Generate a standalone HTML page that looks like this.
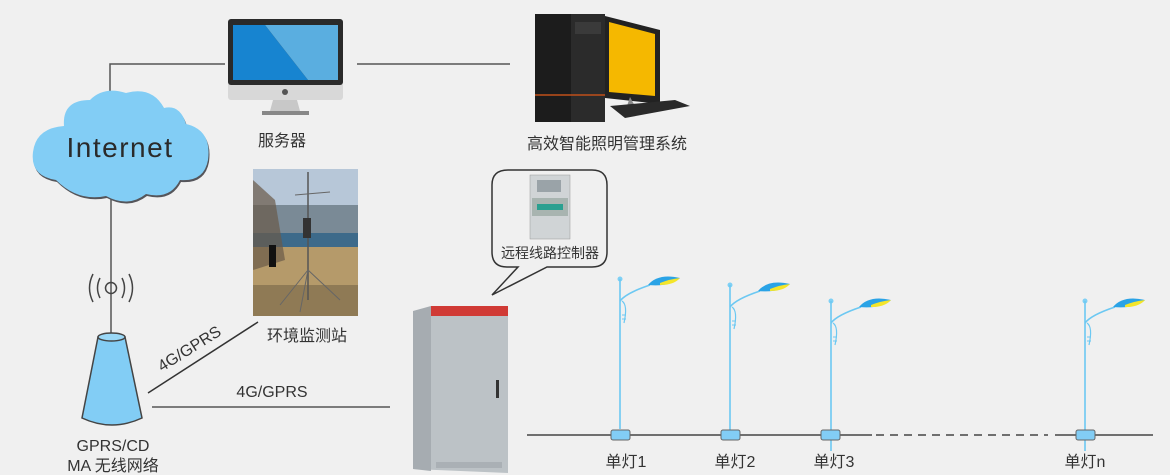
<!DOCTYPE html>
<html><head><meta charset="utf-8"><style>
html,body{margin:0;padding:0;background:#f0f0f0;}
svg{display:block;font-family:"Liberation Sans","Noto Sans CJK SC",sans-serif;}
</style></head><body>
<svg width="1170" height="475" viewBox="0 0 1170 475" xmlns="http://www.w3.org/2000/svg">
<rect width="1170" height="475" fill="#f0f0f0"/>
<defs>
<g id="lamp">
  <circle cx="0" cy="0" r="2.5" fill="#7fd0f5"/>
  <line x1="0" y1="0" x2="0" y2="150" stroke="#6cc8f2" stroke-width="1.6"/>
  <path d="M0 22 Q6 14 30 6" stroke="#6cc8f2" stroke-width="1.6" fill="none"/>
  <path d="M2 22 Q8 26 4 44" stroke="#6cc8f2" stroke-width="1.2" fill="none"/>
  <line x1="2" y1="36" x2="6" y2="36" stroke="#6cc8f2"/><line x1="2" y1="40" x2="6" y2="40" stroke="#6cc8f2"/>
  <path d="M28 6 Q38 -6 60 -1 Q50 8 28 6 Z" fill="#2aa3e6"/>
  <path d="M40 4 Q50 0 60 -1 Q54 6 40 6 Z" fill="#f4e52a"/>
</g>
</defs>

<!-- connectors -->
<polyline points="225,64 110,64 110,95" fill="none" stroke="#555" stroke-width="1.5"/>
<line x1="357" y1="64" x2="510" y2="64" stroke="#555" stroke-width="1.5"/>
<line x1="111" y1="198" x2="111" y2="333" stroke="#555" stroke-width="1.5"/>
<line x1="148" y1="393" x2="258" y2="322" stroke="#333" stroke-width="1.5"/>
<line x1="152" y1="407" x2="390" y2="407" stroke="#555" stroke-width="1.5"/>

<!-- cloud -->
<path d="M56 180 Q30 176 33 152 Q36 128 64 126 Q62 100 90 100 Q104 86 126 93 Q152 86 164 108 Q180 104 186 124 Q212 130 208 160 Q204 182 180 180 Q170 200 146 194 Q128 208 106 196 Q78 202 56 180 Z" fill="#55555a" transform="translate(1,2)"/>
<path d="M56 180 Q30 176 33 152 Q36 128 64 126 Q62 100 90 100 Q104 86 126 93 Q152 86 164 108 Q180 104 186 124 Q212 130 208 160 Q204 182 180 180 Q170 200 146 194 Q128 208 106 196 Q78 202 56 180 Z" fill="#82cdf5"/>
<text x="120" y="157" font-size="28" fill="#2a2a2a" text-anchor="middle" letter-spacing="1.5">Internet</text>

<!-- antenna -->
<circle cx="111" cy="288" r="5.5" fill="none" stroke="#444" stroke-width="1.5"/>
<path d="M100 278 Q95 288 100 298" fill="none" stroke="#444" stroke-width="1.5"/>
<path d="M93 274 Q86 288 93 302" fill="none" stroke="#444" stroke-width="1.5"/>
<path d="M122 278 Q127 288 122 298" fill="none" stroke="#444" stroke-width="1.5"/>
<path d="M129 274 Q136 288 129 302" fill="none" stroke="#444" stroke-width="1.5"/>

<!-- cone -->
<path d="M98 337 L82 418 Q112 432 142 418 L125 337 Z" fill="#82cdf5" stroke="#444" stroke-width="1.5"/>
<ellipse cx="111.5" cy="337" rx="13.5" ry="4" fill="#9ad8f7" stroke="#444" stroke-width="1.5"/>
<text x="113" y="451" font-size="16" fill="#333" text-anchor="middle">GPRS/CD</text>
<text x="113" y="471" font-size="16" fill="#333" text-anchor="middle">MA 无线网络</text>

<text x="0" y="0" font-size="16" fill="#333" transform="translate(162,372) rotate(-32)">4G/GPRS</text>
<text x="272" y="397" font-size="16" fill="#333" text-anchor="middle">4G/GPRS</text>

<!-- server monitor -->
<rect x="228" y="19" width="115" height="81" rx="3" fill="#d8d8d8"/>
<rect x="228" y="19" width="115" height="66" rx="3" fill="#2a2a2a"/>
<path d="M233 25 L265 25 L308 80 L233 80 Z" fill="#1784d0"/>
<path d="M265 25 L338 25 L338 80 L308 80 Z" fill="#5aaee0"/>
<circle cx="285" cy="92" r="3" fill="#555"/>
<path d="M273 100 L297 100 L300 111 L270 111 Z" fill="#c8c8c8"/>
<rect x="262" y="111" width="47" height="4" fill="#888"/>
<text x="282" y="146" font-size="16" fill="#333" text-anchor="middle">服务器</text>

<!-- PC -->
<path d="M605 16 L660 30 L660 104 L605 98 Z" fill="#222"/>
<path d="M609 22 L655 34 L655 96 L609 92 Z" fill="#f5b800"/>
<path d="M630 97 L636 108 L625 112 Z" fill="#888"/>
<path d="M610 106 L675 100 L690 106 L625 118 Z" fill="#2a2a2a"/>
<rect x="535" y="14" width="70" height="108" fill="#1c1c1c"/>
<rect x="571" y="14" width="34" height="108" fill="#2b2b2b"/>
<rect x="575" y="22" width="26" height="12" fill="#3a3a3a"/>
<line x1="535" y1="95" x2="605" y2="95" stroke="#c0501a" stroke-width="1.5"/>
<text x="607" y="149" font-size="16" fill="#333" text-anchor="middle">高效智能照明管理系统</text>

<!-- weather station photo -->
<rect x="253" y="169" width="105" height="147" fill="#b7c7d8"/>
<rect x="253" y="205" width="105" height="30" fill="#7a8a96"/>
<rect x="253" y="233" width="105" height="14" fill="#3d6a8a"/>
<rect x="253" y="247" width="105" height="69" fill="#b59a6a"/>
<rect x="253" y="285" width="105" height="31" fill="#8f7a55"/>
<path d="M253 180 L275 200 L285 260 L253 270 Z" fill="#6a5a48" opacity="0.7"/>
<line x1="308" y1="172" x2="308" y2="300" stroke="#555" stroke-width="1.5"/>
<line x1="295" y1="195" x2="330" y2="192" stroke="#666"/>
<rect x="303" y="218" width="8" height="20" fill="#333"/>
<rect x="269" y="245" width="7" height="22" fill="#111"/>
<path d="M308 270 L280 305 M308 270 L340 300 M308 270 L300 312" stroke="#666" fill="none"/>
<text x="307" y="341" font-size="16" fill="#333" text-anchor="middle">环境监测站</text>

<!-- speech bubble -->
<path d="M508 170 L592 170 Q607 170 607 185 L607 252 Q607 267 592 267 L547 267 L492 295 L518 267 L507 267 Q492 267 492 252 L492 185 Q492 170 508 170 Z" fill="#f0f0f0" stroke="#333" stroke-width="1.5"/>
<rect x="530" y="175" width="40" height="64" fill="#d0d4d6" stroke="#999" stroke-width="0.5"/>
<rect x="537" y="180" width="24" height="12" fill="#9aa3a8"/>
<rect x="532" y="198" width="36" height="18" fill="#a8b4b0"/>
<rect x="537" y="204" width="26" height="6" fill="#2aa090"/>
<text x="550" y="258" font-size="14" fill="#333" text-anchor="middle">远程线路控制器</text>

<!-- cabinet -->
<path d="M413 311 L508 306 L508 473 L413 469 Z" fill="#bcc2c6"/>
<path d="M413 311 L431 306 L431 471 L413 469 Z" fill="#a6acb1"/>
<path d="M431 306 L508 306 L508 316 L431 316 Z" fill="#d03a35"/>
<rect x="496" y="380" width="3" height="18" fill="#333"/>
<rect x="436" y="462" width="66" height="6" fill="#aab0b5"/>

<!-- ground -->
<line x1="527" y1="435" x2="872" y2="435" stroke="#444" stroke-width="1.5"/>
<line x1="876" y1="435" x2="1048" y2="435" stroke="#444" stroke-width="1.5" stroke-dasharray="8,6"/>
<line x1="1055" y1="435" x2="1153" y2="435" stroke="#444" stroke-width="1.5"/>

<use href="#lamp" transform="translate(620,279)"/>
<use href="#lamp" transform="translate(730,285)"/>
<use href="#lamp" transform="translate(831,301)"/>
<use href="#lamp" transform="translate(1085,301)"/>
<g fill="#82cdf5" stroke="#666" stroke-width="1">
<rect x="611" y="430" width="19" height="10" rx="2"/>
<rect x="721" y="430" width="19" height="10" rx="2"/>
<rect x="821" y="430" width="19" height="10" rx="2"/>
<rect x="1076" y="430" width="19" height="10" rx="2"/>
</g>
<g font-size="16" fill="#333" text-anchor="middle">
<text x="626" y="467">单灯1</text>
<text x="735" y="467">单灯2</text>
<text x="834" y="467">单灯3</text>
<text x="1085" y="467">单灯n</text>
</g>
</svg>
</body></html>
